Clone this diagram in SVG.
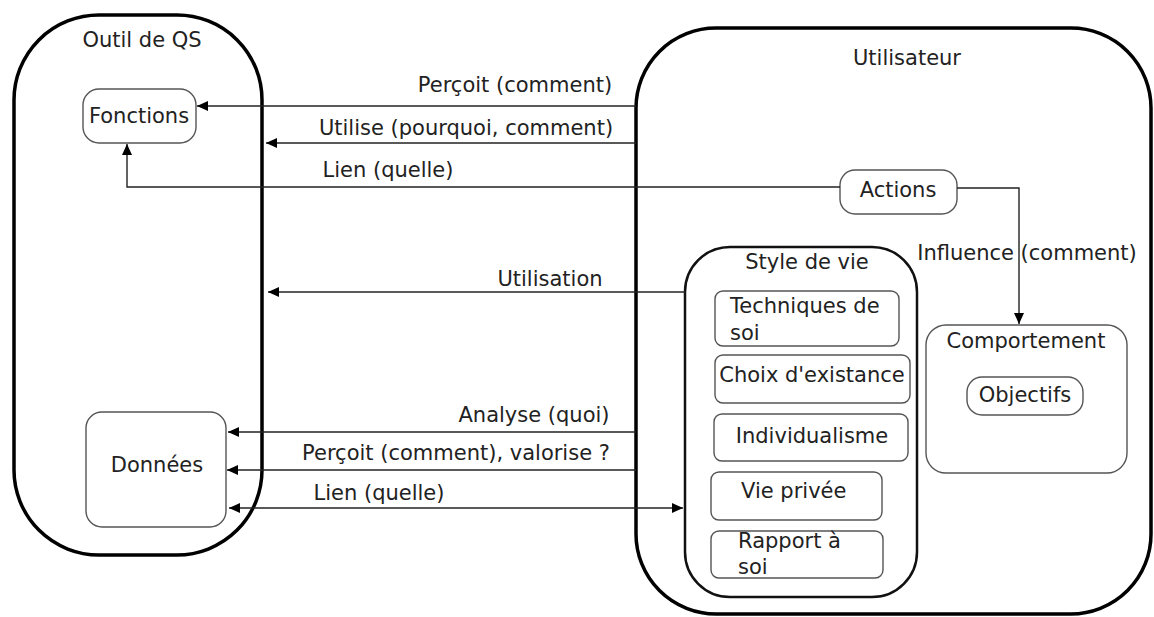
<svg xmlns="http://www.w3.org/2000/svg" width="1154" height="617" viewBox="0 0 1154 617">
<style>
text{font-family:"DejaVu Sans",Verdana,"Liberation Sans",sans-serif;font-size:21px;fill:#222}
.big{fill:none;stroke:#000;stroke-width:3.5}
.mid{fill:none;stroke:#111;stroke-width:2.5}
.box{fill:none;stroke:#555;stroke-width:1.4}
.con{fill:none;stroke:#222;stroke-width:1.4}
.c{text-anchor:middle}
</style>
<defs>
<marker id="ah" markerUnits="userSpaceOnUse" markerWidth="12" markerHeight="10" refX="11" refY="5" orient="auto-start-reverse">
<path d="M0,0 L11,5 L0,10 z" fill="#000"/>
</marker>
</defs>
<g id="outil">
<rect class="big" x="14" y="15" width="248" height="540" rx="85" ry="85"/>
<text class="c" x="142" y="47">Outil de QS</text>
</g>
<g id="fonctions">
<rect class="box" x="83" y="89" width="113" height="54" rx="16"/>
<text class="c" x="139" y="123">Fonctions</text>
</g>
<g id="donnees">
<rect class="box" x="86" y="412" width="140" height="115" rx="16"/>
<text class="c" x="157" y="472">Données</text>
</g>
<g id="utilisateur">
<rect class="big" x="636" y="28" width="515" height="586" rx="80" ry="80" stroke-width="4.5"/>
<text class="c" x="907" y="65">Utilisateur</text>
</g>
<g id="actions">
<rect class="box" x="840" y="170" width="117" height="44" rx="15"/>
<text class="c" x="898" y="197">Actions</text>
</g>
<g id="styledevie">
<rect class="mid" x="685" y="247" width="232" height="350" rx="45" ry="45"/>
<text class="c" x="807" y="269">Style de vie</text>
</g>
<g id="techniques">
<rect class="box" x="715" y="291" width="184" height="55" rx="8"/>
<text x="730" y="313">Techniques de</text>
<text x="730" y="340">soi</text>
</g>
<g id="choix">
<rect class="box" x="715" y="355" width="195" height="48" rx="8"/>
<text class="c" x="812" y="382">Choix d'existance</text>
</g>
<g id="individualisme">
<rect class="box" x="714" y="414" width="194" height="47" rx="8"/>
<text class="c" x="812" y="443">Individualisme</text>
</g>
<g id="vieprivee">
<rect class="box" x="711" y="472" width="171" height="48" rx="8"/>
<text x="741" y="498">Vie privée</text>
</g>
<g id="rapport">
<rect class="box" x="711" y="531" width="172" height="47" rx="8"/>
<text x="738" y="548">Rapport à</text>
<text x="738" y="574">soi</text>
</g>
<g id="comportement">
<rect class="box" x="926" y="325" width="201" height="148" rx="20"/>
<text class="c" x="1026" y="348">Comportement</text>
</g>
<g id="objectifs">
<rect class="box" x="967" y="377" width="116" height="38" rx="15"/>
<text class="c" x="1025" y="402">Objectifs</text>
</g>
<g id="connectors">
<path class="con" d="M636,106 H197" marker-end="url(#ah)"/>
<path class="con" d="M636,143 H266" marker-end="url(#ah)"/>
<path class="con" d="M840,187 H127 V144" marker-end="url(#ah)"/>
<path class="con" d="M685,292 H268" marker-end="url(#ah)"/>
<path class="con" d="M636,432 H228" marker-end="url(#ah)"/>
<path class="con" d="M636,470 H227" marker-end="url(#ah)"/>
<path class="con" d="M229,508 H683" marker-start="url(#ah)" marker-end="url(#ah)"/>
<path class="con" d="M957,188 H1019 V324" marker-end="url(#ah)"/>
<text class="c" x="515" y="92">Perçoit (comment)</text>
<text class="c" x="466" y="135">Utilise (pourquoi, comment)</text>
<text class="c" x="388" y="177">Lien (quelle)</text>
<text class="c" x="550" y="286">Utilisation</text>
<text class="c" x="534" y="422">Analyse (quoi)</text>
<text class="c" x="456" y="460">Perçoit (comment), valorise ?</text>
<text class="c" x="379" y="500">Lien (quelle)</text>
<text class="c" x="1027" y="260">Influence (comment)</text>
</g>
</svg>
